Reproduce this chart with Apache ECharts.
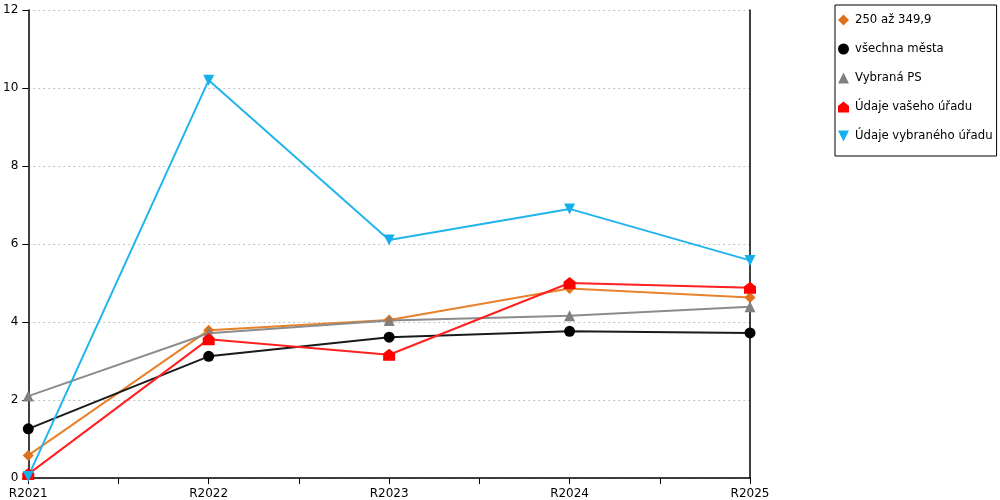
<!DOCTYPE html>
<html>
<head>
<meta charset="utf-8">
<script src="https://cdn.jsdelivr.net/npm/echarts@6/dist/echarts.min.js"></script>
<style>
  html, body { margin: 0; padding: 0; background: #fff; }
  #main { width: 1000px; height: 500px; }
</style>
</head>
<body>
<div id="main"></div>
<script>
// data
const categories = ['R2021', 'R2022', 'R2023', 'R2024', 'R2025'];
const seriesNames = ['250 až 349,9', 'všechna města', 'Vybraná PS', 'Údaje vašeho úřadu', 'Údaje vybraného úřadu'];
const velikost = [0.58, 3.79, 4.05, 4.86, 4.63];
const vsechnaMesta = [1.26, 3.12, 3.61, 3.76, 3.72];
const vybranaPS = [2.1, 3.71, 4.04, 4.16, 4.39];
const vasUrad = [0.1, 3.56, 3.16, 5.0, 4.88];
const vybranyUrad = [0.04, 10.2, 6.1, 6.9, 5.58];

const houseIcon = 'path://M0,4 L5,0 L10,4 L10,10 L0,10 Z';
const downIcon = 'path://M0,0 L10,0 L5,10 Z';
const fontFam = 'DejaVu Sans';

// x is a value axis so ticks also sit between the years
function toPoints(arr) {
    return arr.map((v, i) => [i, v]);
}

function makeLine(name, data, color, lineColor, symbol, size) {
    return {
        name: name,
        type: 'line',
        data: toPoints(data),
        symbol: symbol,
        symbolSize: size,
        showAllSymbol: true,
        lineStyle: { color: lineColor, width: 2 },
        itemStyle: { color: color },
        emphasis: { disabled: true },
        z: 3
    };
}

const chart = echarts.init(document.getElementById('main'));
chart.setOption({
    animation: false,
    backgroundColor: '#fff',
    textStyle: { fontFamily: fontFam },
    grid: { left: 28, right: 250, top: 10, bottom: 21, containLabel: false },
    legend: {
        orient: 'vertical',
        left: 835,
        top: 5,
        padding: [8, 4, 13, 3],
        itemGap: 15,
        itemWidth: 11,
        itemHeight: 11,
        borderColor: '#000',
        borderWidth: 1,
        textStyle: { fontFamily: fontFam, fontSize: 11.7, color: '#000', padding: [0, 0, 0, 1], lineHeight: 14 },
        data: [
            { name: seriesNames[0], icon: 'diamond' },
            { name: seriesNames[1], icon: 'circle' },
            { name: seriesNames[2], icon: 'triangle' },
            { name: seriesNames[3], icon: houseIcon },
            { name: seriesNames[4], icon: downIcon }
        ]
    },
    xAxis: {
        type: 'value',
        min: 0,
        max: 4,
        interval: 0.5,
        axisLine: { show: true, lineStyle: { color: '#000', width: 1.5 } },
        axisTick: { show: true, length: 6, lineStyle: { color: '#000' } },
        splitLine: { show: false },
        axisLabel: {
            color: '#000',
            fontSize: 12,
            fontFamily: fontFam,
            margin: 10,
            showMinLabel: true,
            showMaxLabel: true,
            formatter: v => Number.isInteger(v) ? categories[v] : ''
        }
    },
    yAxis: [{
        type: 'value',
        min: 0,
        max: 12,
        interval: 2,
        axisLine: { show: true, lineStyle: { color: '#000', width: 1.5 } },
        axisTick: { show: true, length: 6, lineStyle: { color: '#000' } },
        splitLine: { show: true, lineStyle: { color: '#c0c0c0', type: [2, 3] } },
        axisLabel: { color: '#000', fontSize: 12, fontFamily: fontFam, margin: 10 }
    }, {
        type: 'value',
        position: 'right',
        min: 0,
        max: 12,
        interval: 2,
        axisLine: { show: true, lineStyle: { color: '#000', width: 1.5 } },
        axisTick: { show: false },
        axisLabel: { show: false },
        splitLine: { show: false }
    }],
    series: [
        makeLine(seriesNames[0], velikost, '#e0701a', '#e8822a', 'diamond', 11),
        makeLine(seriesNames[1], vsechnaMesta, '#000', '#1a1a1a', 'circle', 11),
        makeLine(seriesNames[2], vybranaPS, '#808080', '#8c8c8c', 'triangle', 11),
        makeLine(seriesNames[3], vasUrad, '#ff0000', '#ff2020', houseIcon, 12),
        makeLine(seriesNames[4], vybranyUrad, '#15b0ea', '#22b4ec', downIcon, 11)
    ]
});
</script>
</body>
</html>
